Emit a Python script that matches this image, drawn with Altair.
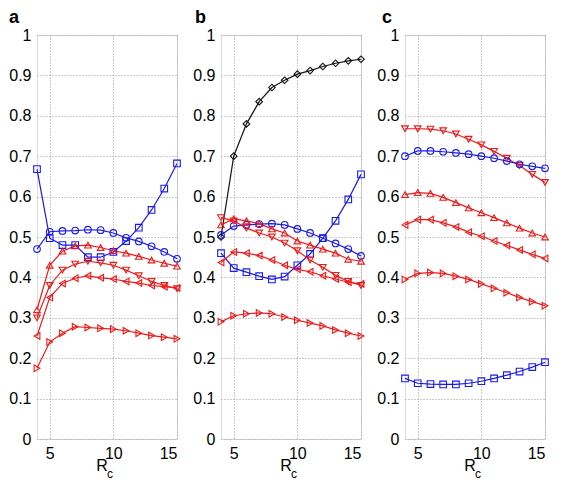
import altair as alt
import pandas as pd

rc = list(range(4, 16))

# Panel a
a_square = [0.668, 0.497, 0.480, 0.480, 0.450, 0.450, 0.463, 0.490, 0.523, 0.567, 0.620, 0.682]
a_circle = [0.470, 0.513, 0.515, 0.516, 0.518, 0.517, 0.510, 0.498, 0.489, 0.477, 0.463, 0.446]
a_up = [0.320, 0.430, 0.465, 0.478, 0.480, 0.474, 0.466, 0.460, 0.452, 0.443, 0.435, 0.428]
a_down = [0.300, 0.380, 0.418, 0.433, 0.440, 0.436, 0.430, 0.418, 0.404, 0.390, 0.380, 0.372]
a_left = [0.255, 0.350, 0.385, 0.398, 0.404, 0.399, 0.396, 0.390, 0.386, 0.380, 0.377, 0.374]
a_right = [0.175, 0.240, 0.262, 0.278, 0.276, 0.274, 0.272, 0.268, 0.262, 0.256, 0.252, 0.248]

# Panel b
b_diamond = [0.500, 0.700, 0.780, 0.835, 0.870, 0.888, 0.903, 0.912, 0.922, 0.930, 0.936, 0.940]
b_square = [0.460, 0.423, 0.413, 0.403, 0.395, 0.402, 0.430, 0.458, 0.497, 0.540, 0.593, 0.655]
b_circle = [0.505, 0.527, 0.530, 0.532, 0.533, 0.530, 0.520, 0.510, 0.497, 0.484, 0.470, 0.453]
b_up = [0.530, 0.545, 0.540, 0.533, 0.520, 0.510, 0.490, 0.480, 0.470, 0.460, 0.445, 0.440]
b_down = [0.548, 0.540, 0.522, 0.510, 0.500, 0.485, 0.466, 0.443, 0.425, 0.405, 0.390, 0.380]
b_left = [0.437, 0.463, 0.460, 0.454, 0.443, 0.430, 0.420, 0.414, 0.404, 0.396, 0.388, 0.384]
b_right = [0.290, 0.305, 0.310, 0.312, 0.310, 0.302, 0.294, 0.287, 0.280, 0.270, 0.262, 0.255]

# Panel c
c_down = [0.768, 0.768, 0.767, 0.763, 0.755, 0.742, 0.728, 0.712, 0.695, 0.677, 0.655, 0.635]
c_circle = [0.700, 0.713, 0.713, 0.711, 0.708, 0.705, 0.700, 0.695, 0.688, 0.680, 0.675, 0.670]
c_up = [0.605, 0.610, 0.608, 0.598, 0.585, 0.572, 0.560, 0.548, 0.535, 0.522, 0.510, 0.500]
c_left = [0.530, 0.543, 0.543, 0.535, 0.525, 0.512, 0.502, 0.490, 0.479, 0.468, 0.457, 0.447]
c_right = [0.395, 0.410, 0.412, 0.410, 0.403, 0.395, 0.384, 0.373, 0.362, 0.350, 0.340, 0.330]
c_square = [0.150, 0.138, 0.136, 0.135, 0.135, 0.138, 0.143, 0.150, 0.158, 0.167, 0.178, 0.190]

series_names = ["square", "circle", "up", "down", "left", "right", "diamond"]
series_colors = ["#1a1aee", "#1a1aee", "#ee1a1a", "#ee1a1a", "#ee1a1a", "#ee1a1a", "#111111"]
series_shapes = ["square", "circle", "triangle-up", "triangle-down",
                 "triangle-left", "triangle-right", "diamond"]

y_ticks = [0, 0.1, 0.2, 0.3, 0.4, 0.5, 0.6, 0.7, 0.8, 0.9, 1]
x_ticks = [5, 10, 15]

W = 140
H = 404
FONT = "Liberation Sans"


def panel(series, label, label_dx):
    rows = []
    for name, vals in series.items():
        for x, v in zip(rc, vals):
            rows.append({"rc": x, "val": v, "series": name})
    df = pd.DataFrame(rows)
    base = alt.Chart(df)
    xenc = alt.X("rc:Q", scale=alt.Scale(domain=[4, 15], nice=False),
                 axis=alt.Axis(values=x_ticks, title=None, grid=True, gridDash=[1, 2],
                               gridColor="#999", ticks=False, domain=False,
                               labelFontSize=16, labelPadding=6, labelFont=FONT,
                               labelColor="#000"))
    yenc = alt.Y("val:Q", scale=alt.Scale(domain=[0, 1], nice=False),
                 axis=alt.Axis(values=y_ticks, format=".1~f", title=None, grid=True,
                               gridDash=[1, 2], gridColor="#999", ticks=False,
                               domain=False, labelFontSize=16, labelPadding=6,
                               labelFont=FONT, labelColor="#000"))
    cenc = alt.Color("series:N", scale=alt.Scale(domain=series_names, range=series_colors),
                     legend=None)
    senc = alt.Shape("series:N", scale=alt.Scale(domain=series_names, range=series_shapes),
                     legend=None)
    lines = base.mark_line(strokeWidth=1.2).encode(x=xenc, y=yenc, color=cenc,
                                                   detail="series:N")
    pts = base.mark_point(filled=False, size=44, strokeWidth=1.1, opacity=1).encode(
        x=xenc, y=yenc, color=cenc, shape=senc)
    lab = alt.Chart(pd.DataFrame({"t": [label]})).mark_text(
        font=FONT, fontSize=18, fontWeight="bold", align="left", baseline="alphabetic",
        color="#000").encode(text="t:N", x=alt.value(label_dx), y=alt.value(-12))
    rt = alt.Chart(pd.DataFrame({"t": ["R"]})).mark_text(
        font=FONT, fontSize=16, align="center", baseline="middle", color="#000").encode(
        text="t:N", x=alt.value(W / 2 - 5), y=alt.value(H + 27))
    ct = alt.Chart(pd.DataFrame({"t": ["c"]})).mark_text(
        font=FONT, fontSize=12, align="center", baseline="middle", color="#000").encode(
        text="t:N", x=alt.value(W / 2 + 3), y=alt.value(H + 35))
    return alt.layer(lines, pts, lab, rt, ct).properties(width=W, height=H)


pa = panel({"square": a_square, "circle": a_circle, "up": a_up, "down": a_down,
            "left": a_left, "right": a_right}, "a", -28)
pb = panel({"diamond": b_diamond, "square": b_square, "circle": b_circle, "up": b_up,
            "down": b_down, "left": b_left, "right": b_right}, "b", -26)
pc = panel({"down": c_down, "circle": c_circle, "up": c_up, "left": c_left,
            "right": c_right, "square": c_square}, "c", -23)

chart = alt.hconcat(pa, pb, pc, spacing=44, bounds="flush", padding=0
).configure_view(stroke="#333", strokeWidth=1).configure(background="white")

chart.save("out.html", embed_options={"renderer": "svg", "actions": False})
